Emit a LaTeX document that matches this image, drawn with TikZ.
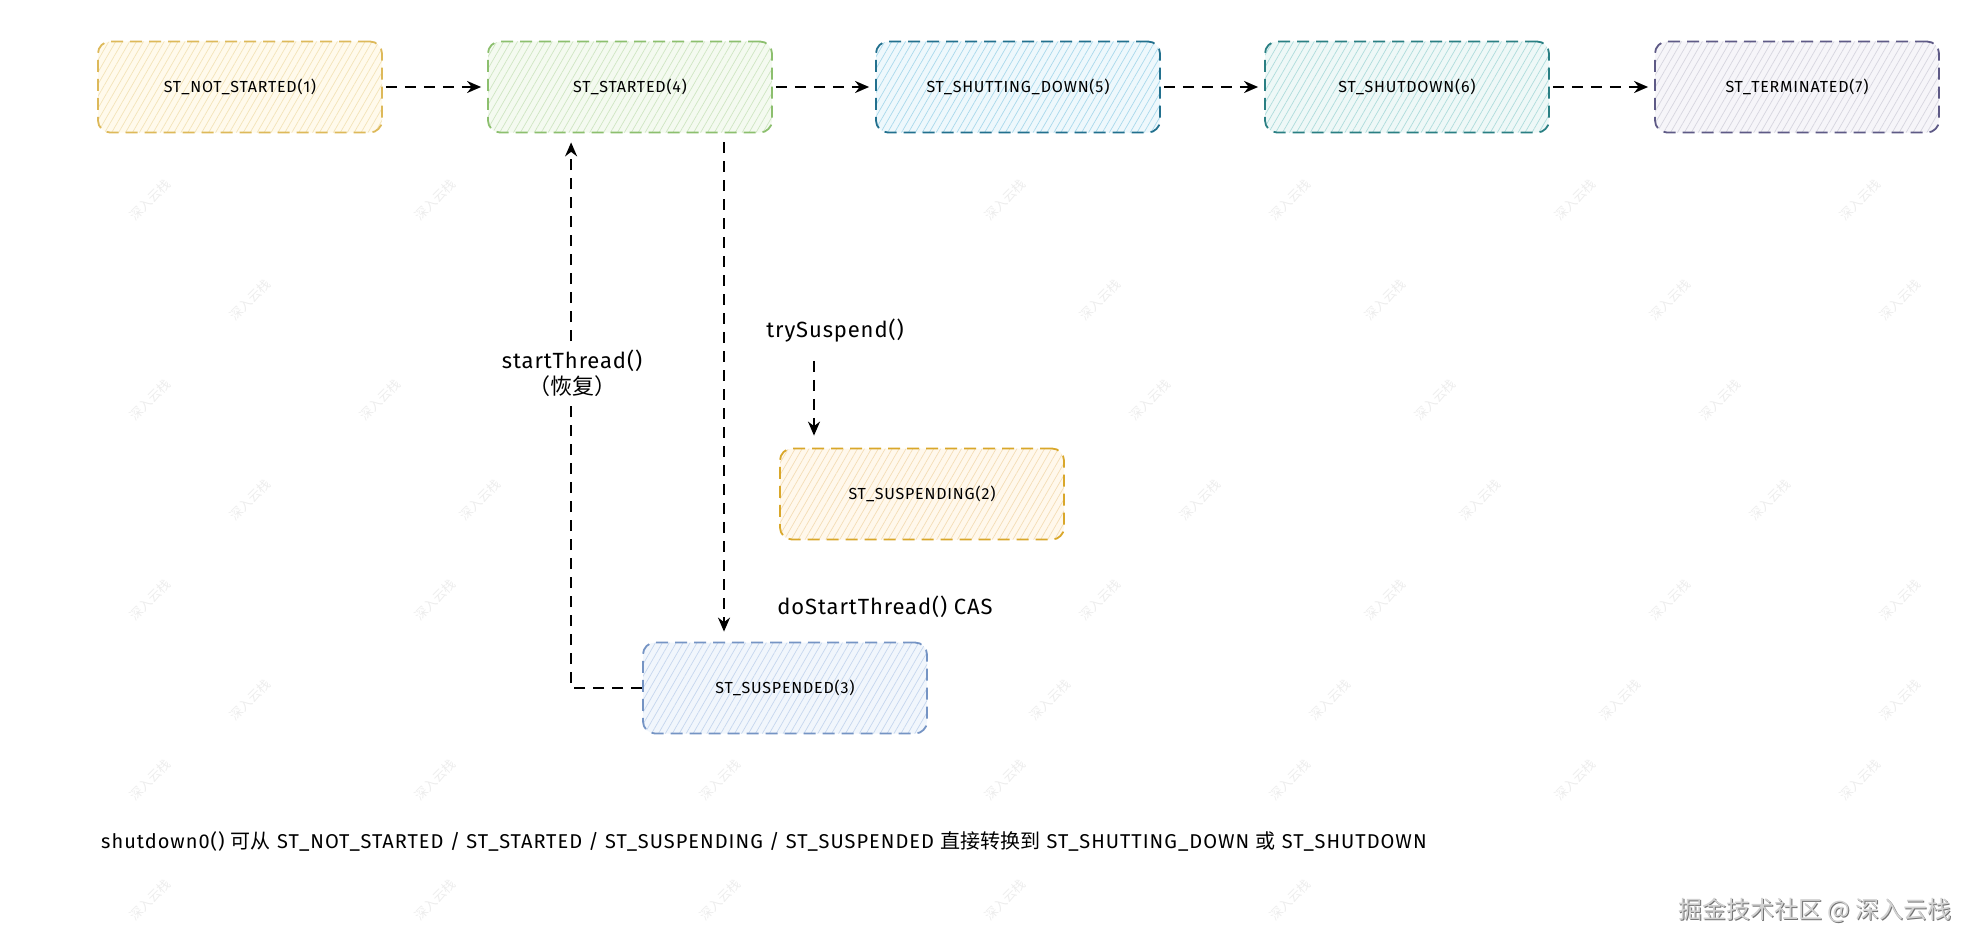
\documentclass[tikz,border=0pt]{standalone}
\usepackage{fontspec}
\setmainfont{Fira Sans}
\newfontfamily\cjk{Noto Sans CJK SC}
\usetikzlibrary{arrows.meta,patterns.meta,calc}
\definecolor{yStroke}{HTML}{DDB95A}
\definecolor{yFill}{HTML}{FFFAEC}
\definecolor{yHatch}{HTML}{F3E3B8}
\definecolor{gStroke}{HTML}{8CBF6E}
\definecolor{gFill}{HTML}{F4FAF0}
\definecolor{gHatch}{HTML}{CFE6C2}
\definecolor{bStroke}{HTML}{22708E}
\definecolor{bFill}{HTML}{EEF8FC}
\definecolor{bHatch}{HTML}{A9D9EC}
\definecolor{tStroke}{HTML}{2A7F83}
\definecolor{tFill}{HTML}{EEF8F7}
\definecolor{tHatch}{HTML}{AEDCDC}
\definecolor{pStroke}{HTML}{5E5A86}
\definecolor{pFill}{HTML}{F6F5F9}
\definecolor{pHatch}{HTML}{D6D5DF}
\definecolor{oStroke}{HTML}{D9A72A}
\definecolor{oFill}{HTML}{FFF8EC}
\definecolor{oHatch}{HTML}{F4DDB5}
\definecolor{sStroke}{HTML}{7594C4}
\definecolor{sFill}{HTML}{F1F6FC}
\definecolor{sHatch}{HTML}{C5D6EE}
\tikzset{
  statebox/.style n args={3}{draw=#1, preaction={fill=#2},
    pattern={Lines[angle=60,distance=6pt,line width=0.7pt]}, pattern color=#3,
    line width=1.8pt, dash pattern=on 12pt off 7pt, rounded corners=12pt,
    minimum width=284pt, minimum height=91pt,
    font=\fontsize{16}{18}\selectfont\addfontfeatures{LetterSpace=5},
    text=black},
  flow/.style={draw=black, line width=2pt, dash pattern=on 11pt off 8pt,
    -{Stealth[length=14pt,width=12pt]}},
  lbl/.style={font=\fontsize{22}{26}\selectfont\addfontfeatures{LetterSpace=4},
    text=black, align=center, inner sep=2pt},
  wm/.style={font=\cjk\fontsize{13}{13}\selectfont, text=black!7, rotate=45}
}
\begin{document}
\begin{tikzpicture}[x=1pt,y=-1pt]
\useasboundingbox (0,0) rectangle (1984,950);
% faint watermarks
\foreach \wx/\wy [count=\i] in {
  150/200, 435/200, 1005/200, 1290/200, 1575/200, 1860/200,
  250/300, 1100/300, 1385/300, 1670/300, 1900/300,
  150/400, 380/400, 1150/400, 1435/400, 1720/400,
  250/500, 480/500, 1200/500, 1480/500, 1770/500,
  150/600, 435/600, 1100/600, 1385/600, 1670/600, 1900/600,
  250/700, 1050/700, 1330/700, 1620/700, 1900/700,
  150/780, 435/780, 720/780, 1005/780, 1290/780, 1575/780, 1860/780,
  150/900, 435/900, 720/900, 1005/900, 1290/900}
  \node[wm] (wm\i) at (\wx,\wy) {深入云栈};
% states
\node[statebox={yStroke}{yFill}{yHatch}] (b1) at (240,87) {ST\_NOT\_STARTED(1)};
\node[statebox={gStroke}{gFill}{gHatch}] (b2) at (630,87) {ST\_STARTED(4)};
\node[statebox={bStroke}{bFill}{bHatch}] (b3) at (1018,87) {ST\_SHUTTING\_DOWN(5)};
\node[statebox={tStroke}{tFill}{tHatch}] (b4) at (1407,87) {ST\_SHUTDOWN(6)};
\node[statebox={pStroke}{pFill}{pHatch}] (b5) at (1797,87) {ST\_TERMINATED(7)};
\node[statebox={oStroke}{oFill}{oHatch}] (spg) at (922,494) {ST\_SUSPENDING(2)};
\node[statebox={sStroke}{sFill}{sHatch}] (spd) at (785,688) {ST\_SUSPENDED(3)};
% labels
\node[lbl] (ltry) at (835,331) {trySuspend()};
\node[lbl] (ldo) at (885,607) {doStartThread() CAS};
% horizontal transitions
\draw[flow, shorten <=3pt, shorten >=6pt] (b1.east) -- (b2.west);
\draw[flow, shorten <=3pt, shorten >=6pt] (b2.east) -- (b3.west);
\draw[flow, shorten <=3pt, shorten >=6pt] (b3.east) -- (b4.west);
\draw[flow, shorten <=3pt, shorten >=6pt] (b4.east) -- (b5.west);
% started -> suspended
\draw[flow, shorten <=9pt, shorten >=10pt] ([xshift=94pt]b2.south) -- ([xshift=-61pt]spd.north);
% suspended -> started (resume)
\coordinate (rc) at ($(spd.west)+(-71pt,0)$);
\draw[flow, shorten >=9pt] (spd.west) -- (rc) -- (rc |- b2.south);
\node[lbl, fill=white, inner sep=6pt] (lstart) at (572,373) {startThread()\\{\cjk （恢复）}};
% trySuspend -> suspending
\draw[flow, shorten <=16pt, shorten >=12pt] ([xshift=-21pt]ltry.south) -- ([xshift=-108pt]spg.north);
% bottom note
\node[anchor=west, font=\fontsize{20}{24}\selectfont\addfontfeatures{LetterSpace=5}, inner sep=0pt] (note) at (101,841)
  {shutdown0() {\cjk 可从} ST\_NOT\_STARTED / ST\_STARTED / ST\_SUSPENDING / ST\_SUSPENDED {\cjk 直接转换到} ST\_SHUTTING\_DOWN {\cjk 或} ST\_SHUTDOWN};
% credit
\node[font=\cjk\fontsize{24}{24}\selectfont, text=black!55] (credsh) at (1816.2,911.2) {掘金技术社区 @ 深入云栈};
\node[font=\cjk\fontsize{24}{24}\selectfont, text=black!18] (cred) at (1815,910) {掘金技术社区 @ 深入云栈};
\end{tikzpicture}
\end{document}
